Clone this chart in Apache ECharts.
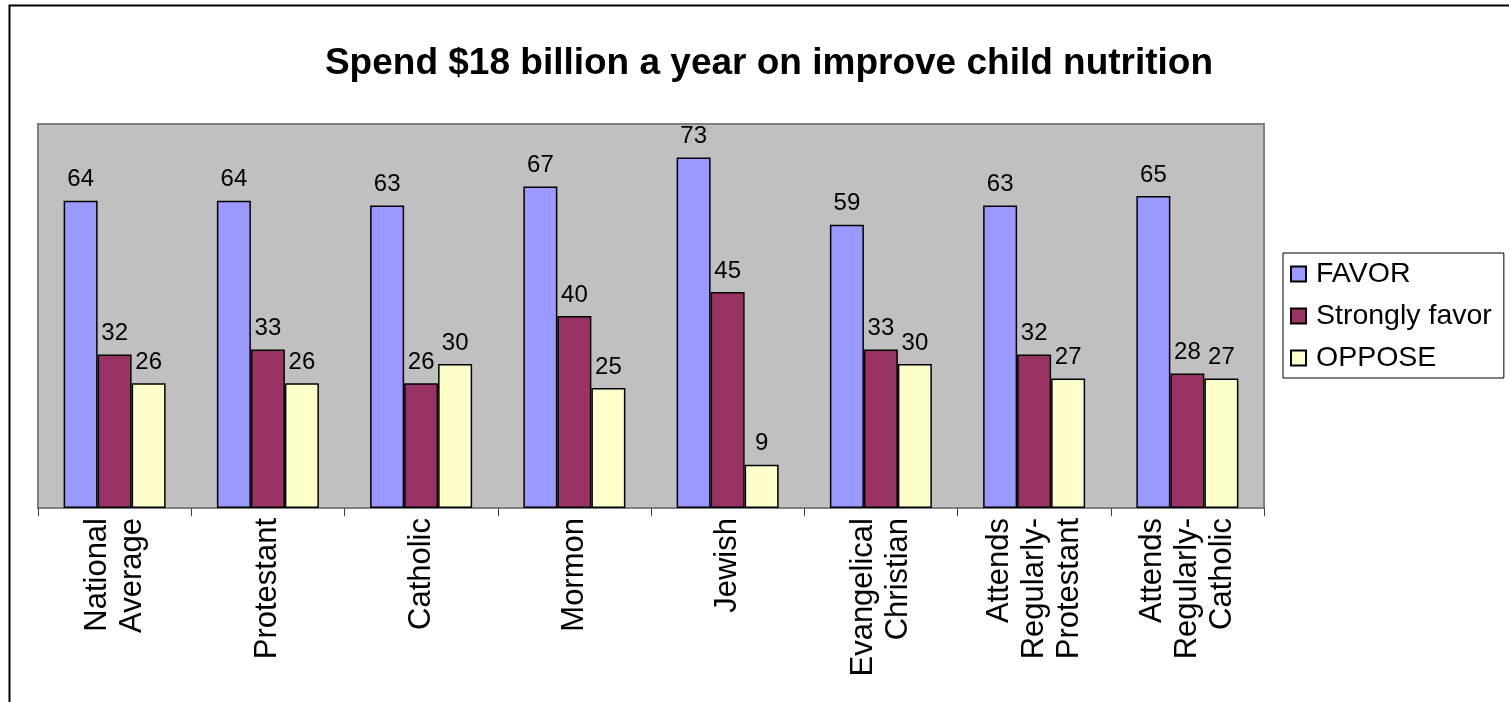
<!DOCTYPE html>
<html><head><meta charset="utf-8">
<script src="https://cdn.jsdelivr.net/npm/echarts@6/dist/echarts.min.js"></script>
<style>html,body{margin:0;padding:0;background:#fff}#c{width:1509px;height:702px}</style>
</head><body><div id="c"></div>
<script>
const categories = ["National\nAverage","Protestant","Catholic","Mormon","Jewish","Evangelical\nChristian","Attends\nRegularly-\nProtestant","Attends\nRegularly-\nCatholic"];
const favor = [64,64,63,67,73,59,63,65];
const stronglyFavor = [32,33,26,40,45,33,32,28];
const oppose = [26,26,30,25,9,30,27,27];
const seriesNames = ["FAVOR","Strongly favor","OPPOSE"];

const chart = echarts.init(document.getElementById('c'));
const font = 'Liberation Sans, Arial, sans-serif';
const colors = ['#9999FF','#993366','#FFFFCC'];
const mk = (name, data, i) => ({
  name, type:'bar', data, barWidth:34, barGap:'0%',
  itemStyle:{color:colors[i], borderColor:'#000', borderWidth:1.5},
  label:{show:true, position:'top', distance:9, color:'#000', fontSize:24, fontFamily:font}
});
chart.setOption({
  animation:false,
  title:{text:'Spend $18 billion a year on improve child nutrition', left:764, top:40, textAlign:'center',
    textStyle:{fontSize:37, fontWeight:'bold', color:'#000', fontFamily:font}},
  graphic:[{type:'rect', shape:{x:9.5,y:5.5,width:1600,height:800}, style:{fill:null, stroke:'#000', lineWidth:2}, z:-10}],
  grid:{left:38, top:124, width:1226, height:384, show:true, backgroundColor:'#C0C0C0', borderColor:'#808080', borderWidth:2},
  legend:{orient:'vertical', left:1283, top:253, itemWidth:15, itemHeight:15, itemGap:12,
    padding:[6,12,5,7], backgroundColor:'#fff', borderColor:'#000', borderWidth:1,
    icon:'rect', textStyle:{fontSize:28.5, fontFamily:font, color:'#000', lineHeight:30, padding:[0,0,0,5]}},
  xAxis:{type:'category', data:categories,
    axisLine:{lineStyle:{color:'#808080', width:2}},
    axisTick:{show:true, length:8, lineStyle:{color:'#404040'}},
    axisLabel:{rotate:90, interval:0, margin:10, fontSize:31, fontFamily:font, color:'#000', lineHeight:35}},
  yAxis:{type:'value', min:0, max:80, show:false, splitLine:{show:false}},
  series:[mk(seriesNames[0],favor,0), mk(seriesNames[1],stronglyFavor,1), mk(seriesNames[2],oppose,2)]
});
</script></body></html>
